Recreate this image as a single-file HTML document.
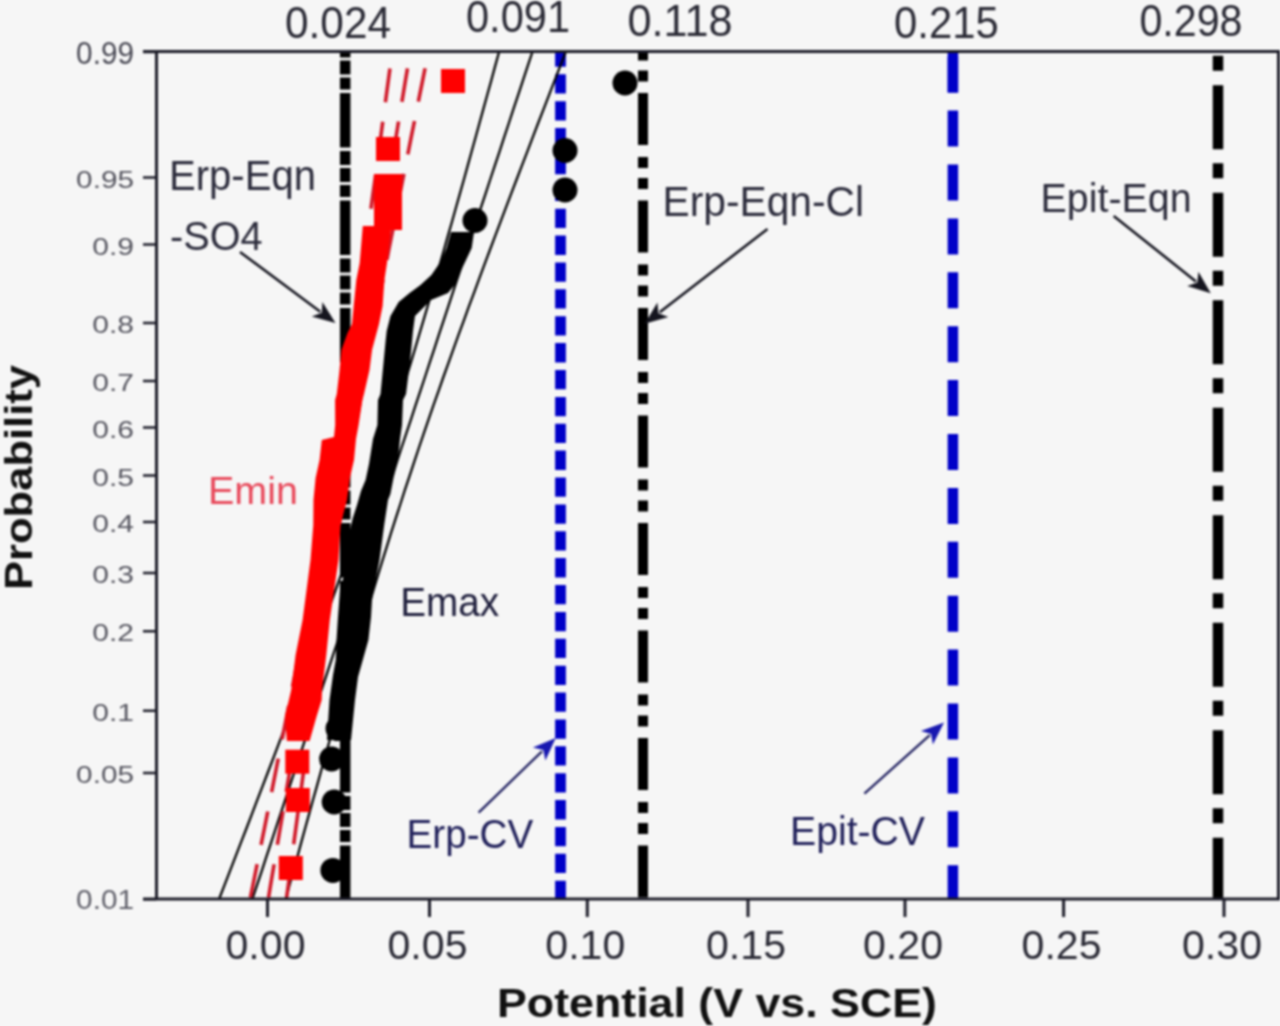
<!DOCTYPE html><html><head><meta charset="utf-8"><style>html,body{margin:0;padding:0;background:#f6f6f6;}svg{display:block;filter:blur(1px)}</style></head><body>
<svg width="1280" height="1026" viewBox="0 0 1280 1026" style="font-family:'Liberation Sans',sans-serif">
<rect x="0" y="0" width="1280" height="1026" fill="#f6f6f6"/>
<path d="M345.2 51.5V57.5M345.2 60.5V74.5M345.2 77.5V89.5M345.2 93.0V147.5M345.2 151.0V165.0M345.2 168.0V182.0M345.2 185.0V197.0M345.2 200.5V255.0M345.2 258.5V272.5M345.2 275.5V289.5M345.2 292.5V304.5M345.2 308.0V362.5M345.2 366.0V380.0M345.2 383.0V397.0M345.2 400.0V412.0M345.2 415.5V470.0M345.2 473.5V487.5M345.2 490.5V504.5M345.2 507.5V519.5M345.2 523.0V577.5M345.2 581.0V595.0M345.2 598.0V612.0M345.2 615.0V627.0M345.2 630.5V685.0M345.2 688.5V702.5M345.2 705.5V719.5M345.2 722.5V734.5M345.2 738.0V792.5M345.2 796.0V810.0M345.2 813.0V827.0M345.2 830.0V842.0M345.2 845.5V899.0" stroke="#000" stroke-width="10.5" fill="none"/>
<path d="M560.5 51.5V66.7M560.5 74.3V93.6M560.5 101.2V120.5M560.5 128.1V147.4M560.5 154.9V174.2M560.5 181.8V201.1M560.5 208.7V228.0M560.5 235.6V254.9M560.5 262.5V281.8M560.5 289.3V308.6M560.5 316.2V335.5M560.5 343.1V362.4M560.5 370.0V389.3M560.5 396.9V416.2M560.5 423.7V443.0M560.5 450.6V469.9M560.5 477.5V496.8M560.5 504.4V523.7M560.5 531.3V550.6M560.5 558.1V577.4M560.5 585.0V604.3M560.5 611.9V631.2M560.5 638.8V658.1M560.5 665.7V685.0M560.5 692.5V711.8M560.5 719.4V738.7M560.5 746.3V765.6M560.5 773.2V792.5M560.5 800.1V819.4M560.5 826.9V846.2M560.5 853.8V873.1M560.5 880.7V899.0" stroke="#0000c8" stroke-width="10.8" fill="none"/>
<path d="M643.0 51.5V60.5M643.0 70.5V81.5M643.0 93.0V145.0M643.0 157.0V168.0M643.0 178.0V189.0M643.0 200.5V252.5M643.0 264.5V275.5M643.0 285.5V296.5M643.0 308.0V360.0M643.0 372.0V383.0M643.0 393.0V404.0M643.0 415.5V467.5M643.0 479.5V490.5M643.0 500.5V511.5M643.0 523.0V575.0M643.0 587.0V598.0M643.0 608.0V619.0M643.0 630.5V682.5M643.0 694.5V705.5M643.0 715.5V726.5M643.0 738.0V790.0M643.0 802.0V813.0M643.0 823.0V834.0M643.0 845.5V897.5" stroke="#000" stroke-width="10.0" fill="none"/>
<path d="M952.9 56.7V92.7M952.9 110.6V146.6M952.9 164.5V200.5M952.9 218.4V254.4M952.9 272.3V308.3M952.9 326.2V362.2M952.9 380.1V416.1M952.9 434.0V470.0M952.9 487.9V523.9M952.9 541.8V577.8M952.9 595.7V631.7M952.9 649.6V685.6M952.9 703.5V739.5M952.9 757.4V793.4M952.9 811.3V847.3M952.9 865.2V899.0" stroke="#0000c8" stroke-width="10.5" fill="none"/>
<path d="M952.9 51.5V92.3" stroke="#0000c8" stroke-width="10.5"/>
<path d="M1218.0 55.7V70.7M1218.0 85.2V149.2M1218.0 163.2V178.2M1218.0 192.7V256.7M1218.0 270.7V285.7M1218.0 300.2V364.2M1218.0 378.2V393.2M1218.0 407.7V471.7M1218.0 485.7V500.7M1218.0 515.2V579.2M1218.0 593.2V608.2M1218.0 622.7V686.7M1218.0 700.7V715.7M1218.0 730.2V794.2M1218.0 808.2V823.2M1218.0 837.7V899.0" stroke="#000" stroke-width="10.5" fill="none"/>
<g fill="none" stroke="#000" stroke-width="2.3">
<polyline points="498.9,52.5 495.0,66.6 491.2,80.7 487.3,94.8 483.4,108.9 479.5,123.0 475.6,137.2 471.7,151.3 467.8,165.4 463.9,179.5 459.9,193.6 455.9,207.7 452.0,221.8 447.9,235.9 443.9,250.0 439.9,264.1 435.8,278.2 431.7,292.3 427.6,306.4 423.4,320.6 419.2,334.7 415.0,348.8 410.8,362.9 406.5,377.0 402.1,391.1 397.7,405.2 393.3,419.3 388.8,433.4 384.3,447.5 379.7,461.6 375.1,475.8 370.4,489.9 365.6,504.0 360.8,518.1 356.0,532.2 351.1,546.3 346.2,560.4 341.2,574.5 336.1,588.6 331.1,602.7 326.0,616.8 320.8,630.9 315.7,645.0 310.5,659.2 305.2,673.3 300.0,687.4 294.7,701.5 289.4,715.6 284.1,729.7 278.7,743.8 273.4,757.9 268.0,772.0 262.6,786.1 257.2,800.2 251.8,814.4 246.4,828.5 240.9,842.6 235.5,856.7 230.0,870.8 224.6,884.9 219.1,899.0"/>
<polyline points="532.2,52.5 527.5,66.6 522.9,80.7 518.2,94.8 513.5,108.9 508.9,123.0 504.2,137.2 499.6,151.3 494.9,165.4 490.2,179.5 485.6,193.6 480.9,207.7 476.2,221.8 471.6,235.9 466.9,250.0 462.3,264.1 457.6,278.2 452.9,292.3 448.3,306.4 443.6,320.6 438.9,334.7 434.3,348.8 429.6,362.9 425.0,377.0 420.3,391.1 415.6,405.2 411.0,419.3 406.3,433.4 401.6,447.5 397.0,461.6 392.3,475.8 387.7,489.9 383.0,504.0 378.3,518.1 373.7,532.2 369.0,546.3 364.3,560.4 359.7,574.5 355.0,588.6 350.3,602.7 345.7,616.8 341.0,630.9 336.4,645.0 331.7,659.2 327.0,673.3 322.4,687.4 317.7,701.5 313.0,715.6 308.4,729.7 303.7,743.8 299.1,757.9 294.4,772.0 289.7,786.1 285.1,800.2 280.4,814.4 275.7,828.5 271.1,842.6 266.4,856.7 261.8,870.8 257.1,884.9 252.4,899.0"/>
<polyline points="565.5,52.5 560.0,66.6 554.6,80.7 549.1,94.8 543.7,108.9 538.2,123.0 532.8,137.2 527.4,151.3 522.0,165.4 516.6,179.5 511.2,193.6 505.9,207.7 500.5,221.8 495.2,235.9 489.9,250.0 484.6,264.1 479.4,278.2 474.2,292.3 468.9,306.4 463.8,320.6 458.6,334.7 453.5,348.8 448.5,362.9 443.4,377.0 438.5,391.1 433.5,405.2 428.6,419.3 423.8,433.4 419.0,447.5 414.3,461.6 409.6,475.8 404.9,489.9 400.4,504.0 395.8,518.1 391.3,532.2 386.9,546.3 382.5,560.4 378.2,574.5 373.9,588.6 369.6,602.7 365.4,616.8 361.2,630.9 357.1,645.0 352.9,659.2 348.8,673.3 344.8,687.4 340.7,701.5 336.7,715.6 332.7,729.7 328.7,743.8 324.7,757.9 320.8,772.0 316.9,786.1 312.9,800.2 309.0,814.4 305.1,828.5 301.2,842.6 297.4,856.7 293.5,870.8 289.6,884.9 285.8,899.0"/>
</g>
<g fill="none" stroke="#d01828" stroke-width="3.6" stroke-dasharray="34 19.8" stroke-dashoffset="37.7">
<polyline points="392.0,52.5 390.2,66.6 388.3,80.7 386.4,94.8 384.5,108.9 382.6,123.0 380.7,137.2 378.8,151.3 376.9,165.4 375.0,179.5 373.0,193.6 371.1,207.7 369.2,221.8 367.2,235.9 365.3,250.0 363.3,264.1 361.3,278.2 359.3,292.3 357.3,306.4 355.2,320.6 353.2,334.7 351.1,348.8 349.0,362.9 346.9,377.0 344.8,391.1 342.6,405.2 340.4,419.3 338.1,433.4 335.9,447.5 333.6,461.6 331.2,475.8 328.8,489.9 326.4,504.0 324.0,518.1 321.5,532.2 318.9,546.3 316.4,560.4 313.8,574.5 311.2,588.6 308.6,602.7 305.9,616.8 303.2,630.9 300.5,645.0 297.8,659.2 295.1,673.3 292.3,687.4 289.6,701.5 286.8,715.6 284.0,729.7 281.2,743.8 278.4,757.9 275.6,772.0 272.8,786.1 270.0,800.2 267.2,814.4 264.4,828.5 261.5,842.6 258.7,856.7 255.8,870.8 253.0,884.9 250.1,899.0"/>
<polyline points="410.1,52.5 407.8,66.6 405.4,80.7 403.1,94.8 400.7,108.9 398.3,123.0 396.0,137.2 393.6,151.3 391.2,165.4 388.9,179.5 386.5,193.6 384.1,207.7 381.8,221.8 379.4,235.9 377.0,250.0 374.7,264.1 372.3,278.2 369.9,292.3 367.6,306.4 365.2,320.6 362.9,334.7 360.5,348.8 358.1,362.9 355.8,377.0 353.4,391.1 351.0,405.2 348.7,419.3 346.3,433.4 343.9,447.5 341.6,461.6 339.2,475.8 336.8,489.9 334.5,504.0 332.1,518.1 329.8,532.2 327.4,546.3 325.0,560.4 322.7,574.5 320.3,588.6 317.9,602.7 315.6,616.8 313.2,630.9 310.8,645.0 308.5,659.2 306.1,673.3 303.7,687.4 301.4,701.5 299.0,715.6 296.6,729.7 294.3,743.8 291.9,757.9 289.6,772.0 287.2,786.1 284.8,800.2 282.5,814.4 280.1,828.5 277.7,842.6 275.4,856.7 273.0,870.8 270.6,884.9 268.3,899.0"/>
<polyline points="428.3,52.5 425.4,66.6 422.6,80.7 419.7,94.8 416.9,108.9 414.1,123.0 411.2,137.2 408.4,151.3 405.6,165.4 402.8,179.5 400.0,193.6 397.2,207.7 394.4,221.8 391.6,235.9 388.8,250.0 386.1,264.1 383.3,278.2 380.6,292.3 377.9,306.4 375.2,320.6 372.5,334.7 369.9,348.8 367.2,362.9 364.6,377.0 362.0,391.1 359.5,405.2 357.0,419.3 354.5,433.4 352.0,447.5 349.6,461.6 347.2,475.8 344.9,489.9 342.6,504.0 340.3,518.1 338.0,532.2 335.8,546.3 333.7,560.4 331.5,574.5 329.4,588.6 327.3,602.7 325.2,616.8 323.2,630.9 321.2,645.0 319.1,659.2 317.1,673.3 315.2,687.4 313.2,701.5 311.2,715.6 309.3,729.7 307.3,743.8 305.4,757.9 303.5,772.0 301.6,786.1 299.6,800.2 297.7,814.4 295.8,828.5 293.9,842.6 292.1,856.7 290.2,870.8 288.3,884.9 286.4,899.0"/>
</g>
<polygon points="391.4,226.0 387.0,263.0 384.4,280.0 382.6,306.0 379.0,324.0 372.0,350.0 369.5,370.0 364.0,394.0 362.4,400.0 358.6,425.0 356.0,439.0 354.0,460.0 349.9,478.0 347.0,500.0 340.5,525.0 338.5,560.0 329.8,620.0 326.3,655.0 322.0,690.0 321.7,700.0 316.7,716.0 309.6,741.0 286.8,741.0 285.0,716.0 288.9,700.0 291.2,690.0 295.6,655.0 302.6,620.0 310.5,560.0 313.3,525.0 313.5,500.0 315.6,478.0 319.6,460.0 321.8,440.0 334.0,437.0 335.2,425.0 335.1,400.0 336.8,394.0 339.6,370.0 341.4,350.0 347.5,333.0 352.0,324.0 353.7,306.0 356.3,280.0 359.7,263.0 362.8,226.0" fill="#ff0000"/>
<rect x="374" y="174" width="28" height="56" fill="#ff0000"/>
<rect x="441.0" y="69.0" width="24" height="24" fill="#ff0000"/>
<rect x="376.0" y="137.0" width="24" height="24" fill="#ff0000"/>
<rect x="285.3" y="749.7" width="24" height="24" fill="#ff0000"/>
<rect x="285.8" y="788.0" width="24" height="24" fill="#ff0000"/>
<rect x="278.8" y="856.0" width="24" height="24" fill="#ff0000"/>
<polygon points="474.0,232.0 471.7,248.0 465.6,261.0 458.7,275.0 454.6,285.0 448.0,293.0 431.0,300.0 415.0,316.0 413.0,331.0 410.0,362.0 406.0,394.0 403.0,400.0 402.0,425.0 400.0,439.0 398.0,460.0 393.5,478.0 390.4,494.0 388.0,500.0 384.2,525.0 379.5,560.0 372.0,600.0 371.0,617.0 368.4,640.0 358.0,677.0 355.0,700.0 351.0,740.0 327.0,740.0 329.5,700.0 333.0,675.0 335.8,660.0 336.5,640.0 338.0,617.0 340.0,590.0 344.6,573.0 347.0,546.0 349.5,532.0 352.8,518.0 357.0,505.0 361.0,491.0 365.6,480.0 369.0,464.0 373.0,439.0 377.4,425.0 378.0,400.0 380.5,394.0 383.6,362.0 385.7,340.0 386.7,331.0 390.5,316.0 398.7,302.0 409.6,293.0 420.5,285.0 431.4,275.0 441.0,261.0 446.5,248.0 451.0,232.0" fill="#000"/>
<circle cx="625.0" cy="83.0" r="12.5" fill="#000"/>
<circle cx="565.0" cy="150.5" r="12.5" fill="#000"/>
<circle cx="565.0" cy="190.0" r="12.5" fill="#000"/>
<circle cx="475.0" cy="220.5" r="12.5" fill="#000"/>
<circle cx="338.0" cy="728.6" r="12.5" fill="#000"/>
<circle cx="331.6" cy="759.0" r="12.5" fill="#000"/>
<circle cx="334.2" cy="802.0" r="12.5" fill="#000"/>
<circle cx="332.9" cy="870.4" r="12.5" fill="#000"/>
<g stroke="#1c1c28" stroke-width="3" fill="none">
<path d="M143 51.5H1280M156.5 51.5V899.0M143 899.0H1280M1278.5 51.5V899.0"/>
<path d="M143 52.0H156.5M143 177.6H156.5M143 244.6H156.5M143 323.0H156.5M143 381.0H156.5M143 427.5H156.5M143 475.5H156.5M143 522.0H156.5M143 573.0H156.5M143 631.2H156.5M143 710.7H156.5M143 773.0H156.5M143 899.2H156.5" stroke-width="2.5"/>
<path d="M267.5 899.0V917M429.5 899.0V917M587.3 899.0V917M748.0 899.0V917M905.0 899.0V917M1063.6 899.0V917M1224.0 899.0V917" stroke-width="3"/>
</g>
<text x="134" y="63.8" font-size="32" fill="#4a4a55" text-anchor="end" textLength="57.9" lengthAdjust="spacingAndGlyphs">0.99</text>
<text x="134" y="187.8" font-size="23" fill="#55555f" text-anchor="end" textLength="57.9" lengthAdjust="spacingAndGlyphs">0.95</text>
<text x="134" y="254.8" font-size="23" fill="#55555f" text-anchor="end" textLength="41.7" lengthAdjust="spacingAndGlyphs">0.9</text>
<text x="134" y="333.2" font-size="23" fill="#55555f" text-anchor="end" textLength="41.7" lengthAdjust="spacingAndGlyphs">0.8</text>
<text x="134" y="391.2" font-size="23" fill="#55555f" text-anchor="end" textLength="41.7" lengthAdjust="spacingAndGlyphs">0.7</text>
<text x="134" y="437.7" font-size="23" fill="#55555f" text-anchor="end" textLength="41.7" lengthAdjust="spacingAndGlyphs">0.6</text>
<text x="134" y="485.7" font-size="23" fill="#55555f" text-anchor="end" textLength="41.7" lengthAdjust="spacingAndGlyphs">0.5</text>
<text x="134" y="532.2" font-size="23" fill="#55555f" text-anchor="end" textLength="41.7" lengthAdjust="spacingAndGlyphs">0.4</text>
<text x="134" y="583.2" font-size="23" fill="#55555f" text-anchor="end" textLength="41.7" lengthAdjust="spacingAndGlyphs">0.3</text>
<text x="134" y="641.4" font-size="23" fill="#55555f" text-anchor="end" textLength="41.7" lengthAdjust="spacingAndGlyphs">0.2</text>
<text x="134" y="720.9" font-size="23" fill="#55555f" text-anchor="end" textLength="41.7" lengthAdjust="spacingAndGlyphs">0.1</text>
<text x="134" y="783.2" font-size="23" fill="#55555f" text-anchor="end" textLength="57.9" lengthAdjust="spacingAndGlyphs">0.05</text>
<text x="134" y="909.4" font-size="27" fill="#60606a" text-anchor="end" textLength="57.9" lengthAdjust="spacingAndGlyphs">0.01</text>
<text x="265.5" y="959" font-size="41.5" fill="#2a2a35" text-anchor="middle" textLength="80" lengthAdjust="spacingAndGlyphs">0.00</text>
<text x="427.5" y="959" font-size="41.5" fill="#2a2a35" text-anchor="middle" textLength="80" lengthAdjust="spacingAndGlyphs">0.05</text>
<text x="585.3" y="959" font-size="41.5" fill="#2a2a35" text-anchor="middle" textLength="80" lengthAdjust="spacingAndGlyphs">0.10</text>
<text x="746.0" y="959" font-size="41.5" fill="#2a2a35" text-anchor="middle" textLength="80" lengthAdjust="spacingAndGlyphs">0.15</text>
<text x="903.0" y="959" font-size="41.5" fill="#2a2a35" text-anchor="middle" textLength="80" lengthAdjust="spacingAndGlyphs">0.20</text>
<text x="1061.6" y="959" font-size="41.5" fill="#2a2a35" text-anchor="middle" textLength="80" lengthAdjust="spacingAndGlyphs">0.25</text>
<text x="1222.0" y="959" font-size="41.5" fill="#2a2a35" text-anchor="middle" textLength="80" lengthAdjust="spacingAndGlyphs">0.30</text>
<text x="285.0" y="38.2" font-size="43.5" fill="#2a2a35" textLength="106.0" lengthAdjust="spacingAndGlyphs">0.024</text>
<text x="466.0" y="32.2" font-size="43.5" fill="#2a2a35" textLength="104.0" lengthAdjust="spacingAndGlyphs">0.091</text>
<text x="627.5" y="35.8" font-size="43.5" fill="#2a2a35" textLength="105.0" lengthAdjust="spacingAndGlyphs">0.118</text>
<text x="894.0" y="38.0" font-size="43.5" fill="#2a2a35" textLength="104.7" lengthAdjust="spacingAndGlyphs">0.215</text>
<text x="1139.4" y="36.4" font-size="43.5" fill="#2a2a35" textLength="103.1" lengthAdjust="spacingAndGlyphs">0.298</text>
<text x="497" y="1016.5" font-size="41" font-weight="bold" fill="#111" textLength="440" lengthAdjust="spacingAndGlyphs">Potential (V vs. SCE)</text>
<text transform="translate(31.7 590) rotate(-90)" x="0" y="0" font-size="39" font-weight="bold" fill="#111" textLength="225" lengthAdjust="spacingAndGlyphs">Probability</text>
<text x="169.0" y="189.5" font-size="42" fill="#2c2c3c" textLength="147.0" lengthAdjust="spacingAndGlyphs">Erp-Eqn</text>
<text x="170.0" y="250.0" font-size="41" fill="#2c2c3c" textLength="92.6" lengthAdjust="spacingAndGlyphs">-SO4</text>
<text x="662.5" y="216.0" font-size="42" fill="#2c2c3c" textLength="201.5" lengthAdjust="spacingAndGlyphs">Erp-Eqn-Cl</text>
<text x="1040.6" y="211.6" font-size="40" fill="#2c2c3c" textLength="151.0" lengthAdjust="spacingAndGlyphs">Epit-Eqn</text>
<text x="406.6" y="848.3" font-size="41" fill="#20205a" textLength="126.7" lengthAdjust="spacingAndGlyphs">Erp-CV</text>
<text x="790.0" y="845.0" font-size="41" fill="#20205a" textLength="135.0" lengthAdjust="spacingAndGlyphs">Epit-CV</text>
<text x="208.0" y="503.8" font-size="38" fill="#e8485a" textLength="90.0" lengthAdjust="spacingAndGlyphs">Emin</text>
<text x="400.2" y="616.0" font-size="41" fill="#1e1e3c" textLength="99.0" lengthAdjust="spacingAndGlyphs">Emax</text>
<line x1="240.0" y1="252.0" x2="320.3" y2="311.7" stroke="#15151f" stroke-width="2.6"/>
<polygon points="335.5,323.0 311.7,316.5 321.7,312.7 322.4,302.1" fill="#15151f"/>
<line x1="767.5" y1="229.0" x2="659.7" y2="312.2" stroke="#15151f" stroke-width="2.6"/>
<polygon points="644.7,323.8 657.4,302.6 658.4,313.3 668.4,316.9" fill="#15151f"/>
<line x1="1113.7" y1="216.0" x2="1195.9" y2="281.4" stroke="#15151f" stroke-width="2.6"/>
<polygon points="1210.8,293.2 1187.2,285.9 1197.3,282.5 1198.4,271.8" fill="#15151f"/>
<line x1="478.6" y1="812.7" x2="542.0" y2="751.3" stroke="#202060" stroke-width="2.3"/>
<polygon points="555.7,738.1 545.4,760.6 543.3,750.1 532.9,747.6" fill="#1818b0"/>
<line x1="864.4" y1="793.6" x2="929.8" y2="735.1" stroke="#202060" stroke-width="2.3"/>
<polygon points="944.0,722.4 932.9,744.4 931.1,733.9 920.9,731.0" fill="#1818b0"/>
</svg></body></html>
